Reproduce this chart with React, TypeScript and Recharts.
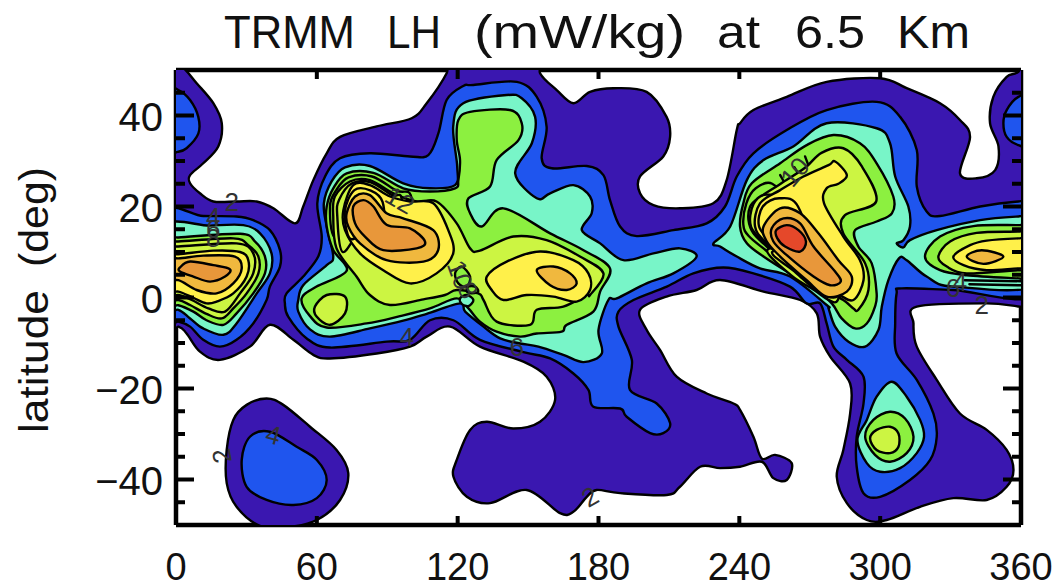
import React from 'react';
import { ScatterChart, Scatter, XAxis, YAxis } from 'recharts';

type P = [number, number];

const xTicks = [0, 60, 120, 180, 240, 300, 360];
const yTicks = [-45, -40, -35, -30, -25, -20, -15, -10, -5, 0, 5, 10, 15, 20, 25, 30, 35, 40, 45];
const yMajor = [-40, -20, 0, 20, 40];

const indigoMain: P[] = [[-8,54],[2,51],[8.8,47.1],[15.9,42.7],[19.5,38.3],[18,33.2],[11.6,29.5],[6,26.9],[6,25.1],[10.2,22.9],[15.9,21.1],[25.8,21.1],[34.4,21.1],[41.5,19.6],[50.7,16.3],[54.2,20],[58.5,25.8],[64.2,31.7],[69.9,35.3],[85.5,37.6],[100.4,39.4],[106.8,42.7],[115.3,49.3],[118,54],[153.7,54],[155.1,49.3],[162.2,45.6],[169.3,42.7],[176.4,45.2],[186.3,46],[200.5,45.2],[209,39.7],[210.5,35.3],[207.6,31],[197.7,26.6],[197.7,22.9],[203.4,20.3],[214.7,19.6],[228.9,20.7],[234.6,25.8],[238.9,36.8],[240.3,38.3],[246,41.2],[260.2,44.1],[277.2,47.4],[300,48.2],[311.3,46],[325.5,42.7],[334,39],[338.3,35.3],[334,27.3],[341.1,26.2],[349,28],[350.4,33.2],[346.8,38.3],[348.2,44.1],[353.9,48.5],[358.9,49.6],[368,54],[368,-2],[359.6,-2],[345.4,-1.3],[315.6,-2],[314.2,-5.7],[315.6,-10.8],[324.1,-18.1],[334,-25.5],[345.4,-29.1],[353.9,-33.5],[356.8,-37.9],[353.9,-41.6],[345.4,-44.5],[331.2,-44.1],[317,-46],[302.8,-48.9],[294.3,-48.9],[285.8,-45.2],[281.5,-39.4],[284.3,-33.5],[287.2,-25.5],[287.2,-18.9],[278.7,-13],[274.4,-8.6],[273,-3.5],[265.9,-0.55],[250.3,1.3],[231.8,3.85],[221.8,1.65],[209,0.2],[197.7,-2.7],[200.5,-7.1],[206.2,-11.5],[213.3,-17.4],[226.1,-21.1],[237.5,-23.3],[240.3,-24.7],[246,-30.6],[249.6,-35.4],[255.2,-34.6],[262.3,-36.4],[260.2,-40.1],[254.5,-39.7],[249.6,-36.1],[240.3,-37.2],[231.8,-37.5],[223.3,-37.2],[214.7,-41.6],[209.1,-43.4],[189.2,-43],[179.2,-42.3],[175,-43.8],[169.3,-47.1],[163.6,-47.4],[149.4,-42.3],[133.8,-45.2],[123.9,-43.8],[118.2,-39.4],[119.6,-35.7],[125.3,-29.1],[132.4,-27.3],[143.7,-28.8],[155.1,-27.3],[161.5,-22.5],[157.9,-17.4],[148,-14.1],[129.5,-10.8],[116.8,-6.4],[106.8,-8.6],[99.7,-10.8],[85.5,-12.3],[65.6,-13.4],[58.5,-12.6],[50,-9.3],[40,-6],[31.5,-10.8],[18.7,-13.7],[10.2,-11.9],[4.5,-7.9],[1,-6.4],[-8,-6]];
const indigoSouth: P[] = [[24.4,-26.9],[30.1,-23.6],[38.6,-22.2],[45.7,-23.6],[57.1,-28.4],[68.4,-33.5],[73.4,-38.6],[69.9,-44.5],[60,-48.9],[47.1,-50.5],[35.8,-50.2],[25.8,-46],[21.6,-40.8],[21.6,-33.5]];

const blueWestCap: P[] = [[-6,46],[1,45.6],[6,43.4],[9.5,39.7],[9.5,36],[4.5,32.8],[0.6,32],[-6,32]];
const blueEastCap: P[] = [[358.9,44.1],[353.9,41.2],[352.5,38.3],[353.9,35.3],[358.9,33.5],[368,33],[368,45]];
const blueWest: P[] = [[-6,18.2],[11.6,17.9],[25.8,17.8],[32.9,17],[40,14.8],[44.3,10.4],[44.3,6.8],[40,2.4],[38.6,-0.55],[32.9,-5.7],[25.8,-9.3],[18.7,-10.8],[11.6,-9.3],[6,-6.4],[1,-5.3],[-6,-5]];
const blueMain: P[] = [[47.1,0.9],[54.2,4.6],[60.6,9],[62.1,13.4],[60.2,20.7],[63.5,26.6],[69.9,30.6],[82.6,31.7],[99.7,31],[107.5,31.3],[111.8,36.1],[115.3,43.4],[122.4,46.5],[126.7,46.7],[145.2,47.4],[153.7,44.1],[157.9,37.5],[155.8,30.6],[160.1,28.4],[175,28.9],[182.1,26.9],[184.9,21.4],[189.2,15.6],[196.3,13.5],[211.9,14.8],[226.1,16.3],[233.9,20],[238.9,26.6],[246,31.7],[260.2,36.8],[277.2,41.2],[298.5,43],[308.5,39.7],[315.6,32.4],[315.6,24.4],[319.8,18.9],[325.5,17.9],[342.6,20],[358.9,21.1],[368,21],[368,0.9],[331.2,1.65],[309.2,2],[307,0.9],[306.4,-5.7],[307,-12.3],[315.6,-18.1],[322.7,-25.5],[324.1,-30.6],[321.3,-35.7],[312.7,-40.1],[300,-43.8],[292.9,-43],[290,-37.2],[290,-30.6],[292.9,-23.3],[292.9,-17.4],[285.8,-13.7],[280.1,-10.8],[277.2,-5.7],[274.4,-1.3],[268.7,-1.3],[261.6,2.4],[246,5.3],[233.2,6.6],[220.4,5.3],[209.1,2.4],[194.9,-0.55],[188.5,-3.1],[188.5,-6.4],[194.2,-13.7],[193.4,-20.3],[204.8,-23.3],[210.5,-27.6],[207.6,-29.8],[202,-29.8],[192,-26.2],[189.2,-24.4],[177.8,-24],[175.7,-20.3],[169.3,-16.7],[159.4,-13.4],[148,-12],[129.5,-9.3],[118.2,-5],[108.2,-5],[99.7,-9.3],[89.8,-9.7],[65.6,-11],[55.7,-9],[47.8,-4.2],[46.4,-1.3]];
const blueSouth: P[] = [[28,-35.7],[31.5,-30.6],[40,-29.5],[51.4,-32.8],[60,-35.7],[64.2,-40.1],[60,-44.1],[50,-45.6],[38.6,-44.5],[30.1,-41.6]];

const aquaWest: P[] = [[-6,15.2],[14.5,15.8],[28.7,15.9],[35.8,14.1],[40.7,9.7],[40,5.3],[34.4,0.9],[25.8,-5.7],[20.2,-8.2],[11.6,-6.8],[6,-4.6],[1,-2.7],[-6,-2.5]];
const aquaCentral: P[] = [[54.2,2.7],[64.2,7.1],[67,9],[64.2,15.6],[63,20.7],[66.3,25.5],[72,28.6],[82.6,28.9],[96.8,25.1],[108.2,24],[118.9,24.7],[119.8,28.8],[118.1,37.6],[122.4,42.7],[140.9,44.5],[147.3,43.8],[153,39.7],[151.6,33.9],[144.5,27.3],[153.7,21.8],[159.4,22.9],[169.3,24.7],[176.4,22.2],[177.1,18.5],[172.9,14.8],[180.7,11.9],[190.6,8.2],[203.4,9.7],[214.7,10.8],[221.8,9],[211.9,5.3],[200.5,3.1],[187.8,-0.2],[184.2,-0.55],[180,-7.1],[181.4,-12.3],[173.6,-14.2],[165,-12.6],[154.4,-10.8],[146.6,-10.1],[138.1,-9],[131,-6.4],[123.2,-3.1],[121,-1.3],[106.8,-3.6],[96.8,-5.1],[82.6,-6.8],[65.6,-8.6],[57.1,-7],[52.1,-3.1],[52.1,-0.55]];
const aquaEast: P[] = [[229,11.9],[236.1,15.6],[243.2,25.8],[250.3,30.2],[263,33.2],[277.2,38.3],[298.5,37.2],[304.2,33.9],[306.4,26.6],[312,20],[312.7,15.6],[309.9,12.6],[307,11.9],[309.9,11],[312.7,12.6],[324.1,14.8],[342.6,17],[358.9,17.8],[368,17.8],[368,3],[331.2,2.4],[319.8,4.6],[311.3,8.2],[308,8.6],[303.5,3.8],[300.7,-2],[299.3,-7.1],[293.6,-10.8],[286.5,-9.7],[280.8,-6.4],[278,-2.4],[277.2,-1.65],[261.6,4.6],[248.8,6.4],[238.9,9],[231.8,11.2]];
const aquaSouth: P[] = [[304.9,-18.5],[311.3,-21.8],[317,-26.9],[318.7,-30.6],[315.6,-34.2],[308.5,-37.5],[300,-38.3],[294.3,-36.4],[290.3,-31.3],[294.3,-26.9],[298.5,-21.8]];

const greenSouth: P[] = [[304.2,-25.1],[310.6,-26.6],[314.2,-30.6],[311.3,-34.2],[304.2,-36.1],[297.8,-34.6],[293.6,-30.6],[297.1,-26.9]];
const greenWest: P[] = [[-6,13.2],[1,13.2],[27.3,14],[33.7,12.3],[37.9,9],[37.9,5.3],[32.9,0.9],[25.8,-3.5],[20.2,-6],[13,-5],[7.4,-3.1],[1,-1.7],[-6,-1.5]];
const greenCentral: P[] = [[64.2,20],[67,24],[72.7,27.3],[84.1,27.4],[96.8,24],[108.2,23.3],[118.9,24],[120.3,25.8],[121,30.2],[119.6,34.6],[120.3,39],[125.3,40.8],[142.3,41.2],[147.3,38.3],[145.9,34.6],[136.6,30.2],[133.8,24.4],[124.6,21.8],[125.3,18.5],[130.3,15.6],[139.5,19.6],[159.4,14.1],[173.6,10.4],[184.9,6.4],[180.7,1.3],[177.8,-3.1],[166.5,-6],[164.3,-7.5],[153.7,-7.9],[146.6,-8.6],[136.6,-7.5],[129.5,-5.3],[124.6,-2.4],[119.6,-0.2],[108.2,-2.4],[95.4,-4.1],[81.2,-5.7],[64.2,-6.6],[57.1,-4.1],[53.5,-0.2],[59.9,2.4],[72.7,5.9],[67,10.4],[64.2,15.6]];
const greenEast: P[] = [[240.3,15.6],[241.7,20.7],[245.3,25.1],[257.4,29.5],[268.7,33.5],[280.1,35.7],[291.4,33.9],[298.5,29.5],[305.6,22.2],[305,18.5],[298.5,16.7],[289.3,14.8],[290.7,11.2],[296.4,7.5],[298.5,0.9],[297.8,-2],[294.3,-5.7],[289.3,-6.8],[283.6,-4.6],[279.4,-1.3],[271.6,2.4],[261.6,5.3],[250.3,9],[243.2,11.9]];
const greenFarEast: P[] = [[319.1,9],[325.5,13.4],[339.7,15.7],[358.9,15.9],[368,15.9],[368,4],[358.9,4.2],[336.9,4.9],[325.5,6]];
const greenRingCentral: P[] = [[68,13],[65.6,20],[68.3,23.6],[73.5,26.4],[83.5,26.6],[94,23.5],[100,22.5],[100,15],[80,15]];
const greenRingEast: P[] = [[241.7,16],[243,20.7],[247,24],[254,25],[262,20],[270,6],[262,6.2],[251,10.5],[244,13.5]];

const limeSouth: P[] = [[304.2,-28.4],[307.8,-29.9],[307.8,-32.8],[304.2,-34.2],[298.5,-33.5],[295.7,-31],[298.5,-29.1]];
const limeWest: P[] = [[-6,12.3],[1,12.3],[24.4,13],[30.8,11.5],[35.1,9],[35.1,5.3],[30.1,0.9],[24.4,-2.4],[19.5,-4.6],[13,-3.6],[6,-1.65],[1,-0.55],[-6,-0.5]];
const limeCentral: P[] = [[67,17.8],[67.7,22.2],[74.1,25.5],[82.6,25.8],[92.6,22.9],[102.5,21.1],[111,21.1],[119.6,16.3],[125.3,10.8],[129.5,10.3],[143.7,13.4],[157.9,12.6],[172.1,9],[182.1,5.3],[176.4,0.55],[175,0.55],[165,-2],[153.7,-2.7],[150.8,-6],[136.6,-5.3],[131,-0.55],[128.8,0.9],[119.6,1.65],[114.6,0.55],[105.4,-0.4],[91.2,-1.65],[82.6,0.55],[76.9,4.6],[68.4,10.8]];
const limeLobe: P[] = [[59.2,-2],[64.2,0.55],[72,0.2],[72,-3.5],[65.6,-6],[59.9,-4.2]];
const limeEast: P[] = [[243.9,17],[244.6,20],[248,21.8],[257,24.8],[268,28.5],[275,31.8],[284.3,32.8],[292.2,28.8],[298.3,21.1],[285,18.1],[284.3,14.1],[293.6,7.5],[295,1.65],[290.7,-2.7],[288.6,-2.4],[284.3,-0.55],[274.4,2.4],[263,6],[251.7,11.2],[246,14.1]];
const limeFarEast: P[] = [[324.8,9],[329.8,12.3],[341.1,14.2],[358.9,14.5],[368,14.8],[368,5.5],[358.9,6],[336.9,5.3],[328.4,6.8]];
const limeRingWest: P[] = [[-6,11.2],[1,11.2],[25.8,11.9],[32.9,9.7],[32.9,5.3],[27.3,0.9],[20.9,-3.1],[13.8,-2.4],[6.7,-0.55],[1,0.55],[-6,0.55]];
const limeRingCentral: P[] = [[71,10],[68.7,18],[69.5,21.5],[75,25.1],[83,25.3],[92,22.5],[96,22],[96,15],[80,15]];
const limeRingEast: P[] = [[245,15.5],[246,20.5],[252,22.6],[262,20],[272,6],[262,7.5],[252,11.5]];
const limeRingSouthEast: P[] = [[252,10.5],[262,4.9],[272,1.6],[278,-0.5],[282,-0.5],[284,6],[270,10]];

const yellowWest: P[] = [[-6,9.5],[1,9.5],[15.9,10.3],[27.3,10],[30.8,8.2],[30.1,4.6],[24.4,0.9],[17.3,-0.9],[13,-1.3],[7.4,-0.1],[1,1.3],[-6,1.3]];
const yellowCentral: P[] = [[71.3,19.2],[75.5,24.7],[82.6,24.7],[91.2,22.2],[99.7,21.1],[109.6,20.7],[116,14.8],[118.1,9.7],[111,5.3],[99.7,3.1],[88.3,6],[78.4,9.7],[72,14.8]];
const yellowRight: P[] = [[132.4,4.6],[140.9,7.9],[155.1,10.1],[169.3,8.2],[175.7,5.3],[176.4,1.65],[170.7,-0.9],[160.8,0.2],[149.4,0.55],[139.5,-0.55],[134.5,1.65]];
const yellowEast: P[] = [[278,29.1],[280.8,29.9],[285.8,26.9],[282.2,25],[277.2,24],[276.1,20.7],[284.3,13.4],[291.4,8.2],[292.9,3.8],[288.6,-0.55],[281.5,0.9],[265.9,5.3],[251.7,11.9],[246.7,15.6],[248.8,20.7],[257.4,23.6],[267.3,26.6]];
const yellowFarEast: P[] = [[331.2,9],[338.3,11.5],[345.4,12.5],[358.9,13],[368,13],[368,6.5],[358.9,6.4],[345.4,6],[335.5,7.1]];
const yellowRingCentral: P[] = [[74,13],[71.9,18.8],[76,23.6],[83,23.5],[88,21],[88,15],[80,14]];
const yellowRingEast: P[] = [[248.4,15.6],[250,20],[257,21.8],[265,20],[272,8],[262,8.5],[254,12]];
const yellowRingSouthEast: P[] = [[254,10],[264,5.5],[274,1.1],[282,0.3],[284,6],[270,10]];

const amberWest: P[] = [[-6,8.8],[1,8.6],[11.6,9.2],[25.1,9],[28,6.4],[24.4,3.1],[17.3,0.9],[8.8,1.65],[1,3.8],[-6,3.8]];
const amberCentral: P[] = [[72.7,18.5],[76.3,22.2],[82.6,22.5],[89.7,18.5],[96.8,17.4],[109.6,14.8],[111.7,10.4],[105.4,7.9],[89.7,8.2],[78.4,11.9],[73.4,15.6]];
const amberRight: P[] = [[153.7,6],[160.8,6.8],[167.9,5.3],[170.7,3.1],[166.5,1.65],[159.4,2.7]];
const amberEast: P[] = [[250.3,15.6],[257.4,19.6],[265.9,18.5],[273.7,14.1],[282.2,8.2],[287.9,4.6],[285.8,1.3],[277.2,0.2],[268.7,3.8],[257.4,9],[251.7,12.3]];
const amberFarEast: P[] = [[336.9,9],[343.3,10.4],[352.5,9],[344,7.4]];

const orangeWest: P[] = [[1.7,6.6],[6,7.9],[15.9,7.1],[23,6.2],[20.9,4.6],[14.5,3.5],[7.4,4.6],[1.7,5.7]];
const orangeCentral: P[] = [[75.5,20],[79.8,21.4],[84.1,20],[89.7,16],[99.7,15.2],[106.1,12.3],[102.5,10.8],[88.3,10.4],[80.5,13.4],[76.3,16.3]];
const orangeEast: P[] = [[253.8,15.2],[258.8,17.4],[265.9,16.3],[271.6,11.2],[280.8,5.7],[283.2,3.5],[278.7,2.7],[271.6,4.6],[260.2,9.3],[254.5,12.3]];
const redEast: P[] = [[255.7,14.8],[260.2,15.9],[265.2,14.8],[268.4,12.3],[265.9,10.1],[259.5,11.2],[256.2,13]];

const spotA: P[] = [[118.9,5.3],[121.7,6.8],[125.3,4.6],[123.9,2.4],[120.3,3.1]];
const spotB: P[] = [[124.6,2.4],[127.4,2.4],[128.8,1.3],[126,0.9],[123.9,1.3]];
const spotC: P[] = [[121,-0.2],[123.9,0.55],[126.7,-0.55],[124.6,-1.9],[121.7,-1.4]];

const barA: P[] = [[257.4,26.9],[260.2,24.4]];
const barB: P[] = [[263.5,28.6],[266.5,26]];
const barC: P[] = [[268,31],[270.2,28]];
const stripeA: P[] = [[336,3.8],[368,3.5]];
const stripeB: P[] = [[338,2.9],[368,2.6]];

const labelLons = [23.7, 15.9, 15.9, 15.9, 41.5, 19.5, 98.3, 145.2, 176.4, 343.3, 263.7, 95.4, 121, 124.4, 334, 331];
const labelLats = [21, 17.8, 15, 13, -30.2, -34.8, -8.6, -10.8, -43.8, -1.65, 27.6, 21.4, 5, 1.6, 3.3, 2];
const labelTexts = ['2', '4', '6', '8', '4', '2', '4', '6', '2', '2', '10', '12', '10', '8', '4', '6'];
const labelAngles = [0, 0, 0, 0, 15, -100, 0, 0, -30, 0, -50, 30, 70, 60, 0, 0];

const titleWords = ['TRMM', 'LH', '(mW/kg)', 'at', '6.5', 'Km'];
const titleStarts = [224, 387, 474, 717, 795, 897];
const titleLengths = [131, 54, 211, 43, 70, 73];

const INDIGO = '#3a17b0';
const BLUE = '#1f55ee';
const AQUA = '#78f5c8';
const GREEN = '#8cf040';
const LIME = '#ccf542';
const YELLOW = '#fff04a';
const AMBER = '#f0b83e';
const ORANGE = '#e8973a';
const RED = '#e5482a';

const layers: { pts: P[]; fill: string }[] = [
  { pts: indigoMain, fill: INDIGO }, { pts: indigoSouth, fill: INDIGO },
  { pts: blueWestCap, fill: BLUE }, { pts: blueEastCap, fill: BLUE }, { pts: blueWest, fill: BLUE }, { pts: blueMain, fill: BLUE }, { pts: blueSouth, fill: BLUE },
  { pts: aquaWest, fill: AQUA }, { pts: aquaCentral, fill: AQUA }, { pts: aquaEast, fill: AQUA }, { pts: aquaSouth, fill: AQUA },
  { pts: greenSouth, fill: GREEN }, { pts: greenWest, fill: GREEN }, { pts: greenCentral, fill: GREEN }, { pts: greenEast, fill: GREEN }, { pts: greenFarEast, fill: GREEN },
  { pts: greenRingCentral, fill: GREEN }, { pts: greenRingEast, fill: GREEN },
  { pts: barA, fill: GREEN }, { pts: barB, fill: GREEN }, { pts: barC, fill: GREEN }, { pts: stripeA, fill: GREEN }, { pts: stripeB, fill: GREEN },
  { pts: limeSouth, fill: LIME }, { pts: limeWest, fill: LIME }, { pts: limeCentral, fill: LIME }, { pts: limeLobe, fill: LIME }, { pts: limeEast, fill: LIME }, { pts: limeFarEast, fill: LIME },
  { pts: limeRingWest, fill: LIME }, { pts: limeRingCentral, fill: LIME }, { pts: limeRingEast, fill: LIME }, { pts: limeRingSouthEast, fill: LIME },
  { pts: spotA, fill: GREEN }, { pts: spotB, fill: GREEN }, { pts: spotC, fill: AQUA },
  { pts: yellowWest, fill: YELLOW }, { pts: yellowCentral, fill: YELLOW }, { pts: yellowRight, fill: YELLOW }, { pts: yellowEast, fill: YELLOW }, { pts: yellowFarEast, fill: YELLOW },
  { pts: yellowRingCentral, fill: YELLOW }, { pts: yellowRingEast, fill: YELLOW }, { pts: yellowRingSouthEast, fill: YELLOW },
  { pts: amberWest, fill: AMBER }, { pts: amberCentral, fill: AMBER }, { pts: amberRight, fill: AMBER }, { pts: amberEast, fill: AMBER }, { pts: amberFarEast, fill: AMBER },
  { pts: orangeWest, fill: ORANGE }, { pts: orangeCentral, fill: ORANGE }, { pts: orangeEast, fill: ORANGE },
  { pts: redEast, fill: RED },
];

const labelData = labelTexts.map((t, i) => ({ lon: labelLons[i], lat: labelLats[i], t, a: labelAngles[i] }));

const FONT = '"Liberation Sans", Arial, sans-serif';

function closedPath(pts: { x: number; y: number }[]) {
  const n = pts.length;
  let d = `M${pts[0].x},${pts[0].y}`;
  for (let i = 0; i < n; i++) {
    const p0 = pts[(i - 1 + n) % n];
    const p1 = pts[i];
    const p2 = pts[(i + 1) % n];
    const p3 = pts[(i + 2) % n];
    d += `C${p1.x + (p2.x - p0.x) / 6},${p1.y + (p2.y - p0.y) / 6} ${p2.x - (p3.x - p1.x) / 6},${p2.y - (p3.y - p1.y) / 6} ${p2.x},${p2.y}`;
  }
  return d + 'Z';
}

const yTickLeft = (p: any) => {
  const v = p.payload.value;
  const major = yMajor.includes(v);
  return (
    <g>
      <line x1={p.x} x2={p.x + (major ? 18 : 9)} y1={p.y} y2={p.y} stroke="#000" strokeWidth={4} />
      {major && (
        <text x={p.x - 13} y={p.y + 15} textAnchor="end" fontFamily={FONT} fontSize={40} fill="#111">
          {v < 0 ? `\u2212${-v}` : v}
        </text>
      )}
    </g>
  );
};
const yTickRight = (p: any) => {
  const major = yMajor.includes(p.payload.value);
  return <line x1={p.x} x2={p.x - (major ? 18 : 9)} y1={p.y} y2={p.y} stroke="#000" strokeWidth={4} />;
};
const xTickBottom = (p: any) => (
  <g>
    <line x1={p.x} x2={p.x} y1={p.y} y2={p.y - 9} stroke="#000" strokeWidth={4} />
    <text x={p.x} y={p.y + 55} textAnchor="middle" fontFamily={FONT} fontSize={38} fill="#111">
      {p.payload.value}
    </text>
  </g>
);
const xTickTop = (p: any) => <line x1={p.x} x2={p.x} y1={p.y} y2={p.y + 9} stroke="#000" strokeWidth={4} />;

const labelShape = (p: any) => (
  <text
    x={p.cx}
    y={p.cy}
    textAnchor="middle"
    dominantBaseline="central"
    fontFamily={FONT}
    fontSize={26}
    fill="#333"
    transform={`rotate(${p.payload.a} ${p.cx} ${p.cy})`}
  >
    {p.payload.t}
  </text>
);

const axisLine = { stroke: '#000', strokeWidth: 4.5 };

export default function App() {
  return (
    <div style={{ position: 'absolute', left: 0, top: 0, width: 1058, height: 588 }}>
      <ScatterChart width={1058} height={588} margin={{ left: 175, right: 36, top: 69, bottom: 62 }}>
        {layers.map((l, i) => (
          <Scatter
            key={i}
            data={l.pts.map(([lon, lat]) => ({ lon, lat }))}
            isAnimationActive={false}
            shape={() => <g />}
            line={(p: any) => <path d={closedPath(p.points)} fill={l.fill} stroke="#000" strokeWidth={2.4} strokeLinejoin="round" />}
          />
        ))}
        <Scatter data={labelData} isAnimationActive={false} shape={labelShape} />
        <XAxis type="number" dataKey="lon" domain={[0, 360]} allowDataOverflow ticks={xTicks} interval={0} height={1} tickSize={0} tickMargin={0} tickLine={false} axisLine={axisLine} tick={xTickBottom} />
        <XAxis xAxisId="top" orientation="top" type="number" dataKey="lon" domain={[0, 360]} allowDataOverflow ticks={xTicks.slice(1, -1)} interval={0} height={1} tickSize={0} tickMargin={0} tickLine={false} axisLine={axisLine} tick={xTickTop} />
        <YAxis type="number" dataKey="lat" domain={[-50, 50]} allowDataOverflow ticks={yTicks} interval={0} width={1} tickSize={0} tickMargin={0} tickLine={false} axisLine={axisLine} tick={yTickLeft} />
        <YAxis yAxisId="right" orientation="right" type="number" dataKey="lat" domain={[-50, 50]} allowDataOverflow ticks={yTicks} interval={0} width={1} tickSize={0} tickMargin={0} tickLine={false} axisLine={axisLine} tick={yTickRight} />
        {titleWords.map((w, i) => (
          <text key={w} x={titleStarts[i]} y={48} fontFamily={FONT} fontSize={46} fill="#111" textLength={titleLengths[i]} lengthAdjust="spacingAndGlyphs">{w}</text>
        ))}
        <text x={48} y={433} fontFamily={FONT} fontSize={41} fill="#111" textLength={143} lengthAdjust="spacingAndGlyphs" transform="rotate(-90 48 433)">latitude</text>
        <text x={48} y={267} fontFamily={FONT} fontSize={41} fill="#111" textLength={100} lengthAdjust="spacingAndGlyphs" transform="rotate(-90 48 267)">(deg)</text>
      </ScatterChart>
    </div>
  );
}
